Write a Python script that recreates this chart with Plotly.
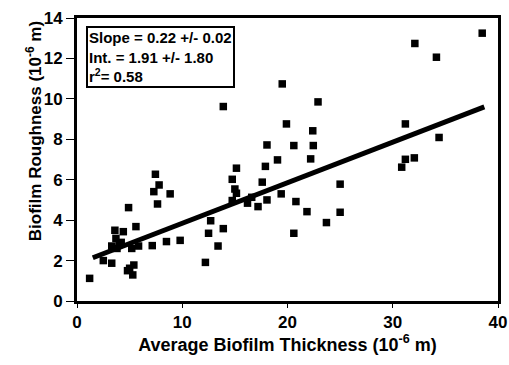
import plotly.graph_objects as go

thickness = [1.2, 2.5, 3.3, 3.6, 4.4, 3.7, 4.2, 3.3, 3.8, 4.0, 4.9, 5.6, 5.2, 5.85, 7.15, 8.5, 9.8,
             5.0, 5.4, 5.3, 4.8, 7.45, 7.3, 7.8, 7.65, 8.85,
             12.2, 12.7, 12.5, 13.4, 13.9, 13.9, 14.75, 14.75, 15.15, 15.0, 15.15, 16.2, 16.6, 17.2,
             18.05, 17.6, 17.9, 19.05, 19.4, 19.5, 19.9, 18.05, 20.6, 20.8, 20.6,
             22.9, 22.4, 22.45, 22.2, 21.85, 23.7, 25.0, 25.0,
             31.2, 31.2, 32.05, 30.85, 34.4, 32.1, 34.15, 38.5]
roughness = [1.12, 2.0, 1.87, 3.5, 3.43, 3.1, 2.9, 2.72, 2.6, 2.8, 4.62, 3.68, 2.6, 2.72, 2.74, 2.94, 3.0,
             1.62, 1.78, 1.29, 1.5, 6.27, 5.41, 5.74, 4.8, 5.3,
             1.91, 3.97, 3.35, 2.72, 3.58, 9.62, 4.97, 6.02, 6.57, 5.54, 5.33, 4.84, 5.13, 4.67,
             5.0, 5.88, 6.66, 6.98, 5.3, 10.74, 8.76, 7.72, 7.69, 4.92, 3.35,
             9.85, 8.42, 7.69, 7.03, 4.42, 3.88, 5.78, 4.39,
             8.76, 7.01, 7.08, 6.62, 8.09, 12.74, 12.06, 13.25]

fit_x = [1.5, 38.7]
fit_y = [2.14, 9.6]

x_ticks = [0, 10, 20, 30, 40]
y_ticks = [0, 2, 4, 6, 8, 10, 12, 14]

stats_text = "Slope = 0.22 +/- 0.02<br>Int. = 1.91 +/- 1.80<br>r<sup>2</sup>= 0.58"
x_title = "Average Biofilm Thickness (10<sup>-6</sup> m)"
y_title = "Biofilm Roughness (10<sup>-6</sup> m)"

fig = go.Figure()
fig.add_trace(go.Scatter(x=fit_x, y=fit_y, mode="lines",
                         line=dict(color="black", width=5), showlegend=False))
fig.add_trace(go.Scatter(x=thickness, y=roughness, mode="markers",
                         marker=dict(symbol="square", size=7.5, color="black"),
                         showlegend=False))

font_b = "Liberation Sans"
fig.add_annotation(xref="paper", yref="paper", x=0.022, y=0.972, xanchor="left", yanchor="top",
                   text="<b>" + stats_text + "</b>", showarrow=False, align="left",
                   font=dict(family=font_b, size=15, color="black"),
                   bordercolor="black", borderwidth=2, borderpad=1, bgcolor="white")

fig.add_annotation(xref="paper", yref="paper", x=0, y=0.60, xanchor="center", yanchor="middle",
                   xshift=-43, textangle=-90, showarrow=False,
                   text="<b>" + y_title + "</b>",
                   font=dict(family=font_b, size=17, color="black"))

fig.update_layout(
    width=509, height=365,
    margin=dict(l=77, r=11, t=18, b=64, autoexpand=False),
    paper_bgcolor="white", plot_bgcolor="white",
    font=dict(family=font_b, color="black"),
)
fig.update_xaxes(range=[0, 40], tickvals=x_ticks, ticktext=["<b>%d</b>" % v for v in x_ticks],
                 automargin=False,
                 showline=True, linecolor="black", linewidth=3, mirror=True,
                 ticks="outside", ticklen=4, tickwidth=1, tickcolor="black",
                 showgrid=False, zeroline=False,
                 tickfont=dict(family=font_b, size=17, color="black"),
                 title=dict(text="<b>" + x_title + "</b>",
                            font=dict(family=font_b, size=18), standoff=5))
fig.update_yaxes(range=[0, 14], tickvals=y_ticks, ticktext=["<b>%d</b>" % v for v in y_ticks],
                 automargin=False,
                 showline=True, linecolor="black", linewidth=3, mirror=True,
                 ticks="outside", ticklen=8, tickwidth=1, tickcolor="black",
                 showgrid=False, zeroline=False,
                 tickfont=dict(family=font_b, size=17, color="black"))

fig.write_html("out.html")
